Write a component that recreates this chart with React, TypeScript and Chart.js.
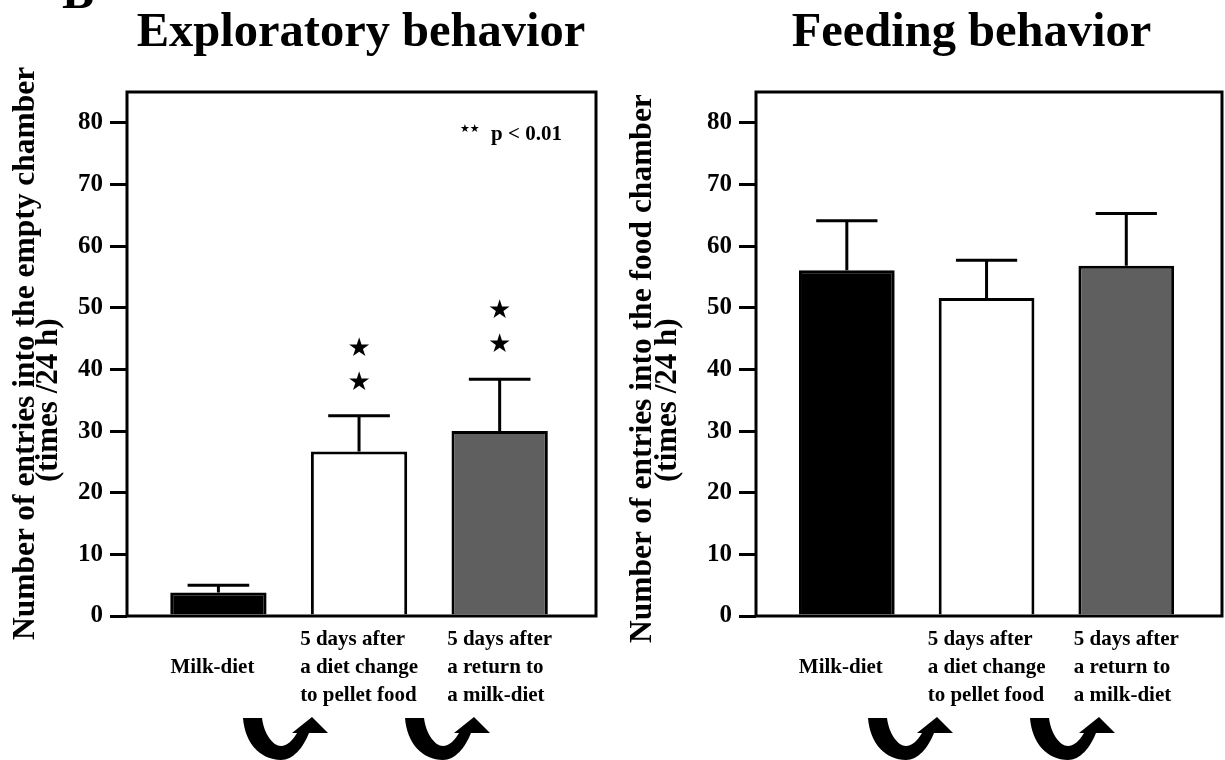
import React, { useEffect, useRef } from 'react';
import { Chart, registerables } from 'chart.js';

Chart.register(...registerables);

// ---------- data ----------
const categoryLabels: string[][] = [
  ['Milk-diet'],
  ['5 days after', 'a diet change', 'to pellet food'],
  ['5 days after', 'a return to', 'a milk-diet'],
];
const categoryPositions = [1, 2, 3];
const barFills = ['#000000', '#ffffff', '#5f5f5f'];
const yTickValues = [0, 10, 20, 30, 40, 50, 60, 70, 80];

const exploratoryMeans = [3.8, 26.7, 30.0];
const exploratoryUpperErrors = [1.2, 5.8, 8.4];
const exploratoryStars: number[][] = [[], [37.7, 43.3], [44.0, 49.5]];

const feedingMeans = [56.1, 51.6, 56.8];
const feedingUpperErrors = [8.0, 6.1, 8.5];
const feedingStars: number[][] = [[], [], []];

// ---------- layout ----------
const SERIF = '"Liberation Serif", "Times New Roman", serif';
const H = 760;
const FRAME_TOP = 92;
const FRAME_BOTTOM = 616;
const Y_MAX = 85;
const X_MIN = 0.35;
const X_MAX = 3.685;

function makePanelPlugin(means: number[], errs: number[], stars: number[][]) {
  return {
    id: 'panelDecor',
    afterDatasetsDraw(chart: any) {
      const ctx = chart.ctx as CanvasRenderingContext2D;
      const { left, top, right, bottom } = chart.chartArea;
      const meta = chart.getDatasetMeta(0);
      const ys = chart.scales.y;
      ctx.save();
      ctx.strokeStyle = '#000';
      ctx.fillStyle = '#000';
      ctx.lineWidth = 3;
      ctx.lineCap = 'butt';
      // upper error bars
      meta.data.forEach((bar: any, i: number) => {
        const x = bar.x;
        const w = bar.width;
        const y0 = ys.getPixelForValue(means[i]);
        const y1 = ys.getPixelForValue(means[i] + errs[i]);
        ctx.beginPath();
        ctx.moveTo(x, y0);
        ctx.lineTo(x, y1);
        ctx.moveTo(x - w * 0.32, y1);
        ctx.lineTo(x + w * 0.32, y1);
        ctx.stroke();
      });
      // significance stars
      ctx.font = '26px "DejaVu Sans"';
      ctx.textAlign = 'center';
      ctx.textBaseline = 'middle';
      stars.forEach((list, i) => {
        list.forEach((v) => {
          ctx.fillText('\u2605', meta.data[i].x, ys.getPixelForValue(v));
        });
      });
      // frame
      ctx.lineWidth = 3;
      ctx.strokeRect(left, top, right - left, bottom - top);
      // category labels: left-aligned blocks centred under the bars
      ctx.font = `bold 21px ${SERIF}`;
      ctx.textAlign = 'left';
      ctx.textBaseline = 'middle';
      const gap = 28;
      meta.data.forEach((bar: any, i: number) => {
        const lines = categoryLabels[i];
        const maxW = Math.max(...lines.map((l) => ctx.measureText(l).width));
        const x0 = bar.x - maxW / 2 - (lines.length === 1 ? 6 : 0);
        const n = lines.length;
        lines.forEach((l, j) => {
          ctx.fillText(l, x0, bottom + 52 + (j - (n - 1) / 2) * gap);
        });
      });
      ctx.restore();
    },
  };
}

type PanelProps = {
  left: number;
  width: number;
  frameLeft: number;
  frameRight: number;
  means: number[];
  errs: number[];
  stars: number[][];
};

function Panel({ left, width, frameLeft, frameRight, means, errs, stars }: PanelProps) {
  const ref = useRef<HTMLCanvasElement>(null);
  useEffect(() => {
    const chart = new Chart(ref.current as HTMLCanvasElement, {
      type: 'bar',
      data: {
        datasets: [
          {
            xAxisID: 'xl',
            yAxisID: 'y',
            data: means.map((v, i) => ({ x: categoryPositions[i], y: v })),
            backgroundColor: barFills,
            borderColor: '#000000',
            borderWidth: 3,
            barPercentage: 0.685,
            categoryPercentage: 1,
          } as any,
        ],
      },
      options: {
        responsive: false,
        animation: false,
        events: [],
        layout: {
          padding: { left: 0, top: FRAME_TOP, right: width - frameRight, bottom: H - FRAME_BOTTOM },
        },
        plugins: {
          legend: { display: false },
          tooltip: { enabled: false },
          title: { display: false },
        },
        scales: {
          xl: {
            type: 'linear',
            axis: 'x',
            position: 'bottom',
            min: X_MIN,
            max: X_MAX,
            offset: false,
            bounds: 'data',
            display: false,
            grid: { offset: false },
            afterBuildTicks: (s: any) => {
              s.ticks = categoryPositions.map((v) => ({ value: v }));
            },
          },
          y: {
            type: 'linear',
            min: 0,
            max: Y_MAX,
            afterBuildTicks: (s: any) => {
              s.ticks = yTickValues.map((v) => ({ value: v }));
            },
            afterFit: (s: any) => {
              s.width = frameLeft;
            },
            grid: {
              drawOnChartArea: false,
              drawTicks: true,
              tickLength: 17,
              color: '#000000',
              lineWidth: 3,
            },
            border: { display: false },
            ticks: {
              color: '#000000',
              padding: 7,
              font: { family: SERIF, weight: 'bold', size: 25 },
            },
          },
        },
      } as any,
      plugins: [makePanelPlugin(means, errs, stars)],
    });
    return () => chart.destroy();
  }, []);
  return (
    <canvas
      ref={ref}
      width={width}
      height={H}
      style={{ position: 'absolute', left, top: 0, width, height: H }}
    />
  );
}

function VText({ x, y, text, size }: { x: number; y: number; text: string; size: number }) {
  return (
    <div
      style={{
        position: 'absolute',
        left: x,
        top: y,
        transform: 'rotate(-90deg)',
        transformOrigin: '0 0',
        whiteSpace: 'nowrap',
        fontFamily: SERIF,
        fontWeight: 'bold',
        fontSize: size,
        lineHeight: '1',
        color: '#000',
      }}
    >
      {text}
    </div>
  );
}

function Title({ cx, baseline, text, size }: { cx: number; baseline: number; text: string; size: number }) {
  return (
    <div
      style={{
        position: 'absolute',
        left: cx - 400,
        width: 800,
        top: baseline - 0.8375 * size,
        textAlign: 'center',
        whiteSpace: 'nowrap',
        fontFamily: SERIF,
        fontWeight: 'bold',
        fontSize: size,
        lineHeight: '1',
        color: '#000',
      }}
    >
      {text}
    </div>
  );
}

const ARROW_PATH =
  'M 0 2 L 19 2 C 21 18, 30 30, 38 30 C 44 30, 50 24, 54 17 L 49 17 L 69 1 L 85 17 L 66 17 C 60 32, 50 44, 38 44 C 18 44, 2 28, 0 2 Z';
const arrowOrigins = [243, 405, 868, 1030];

export default function App() {
  return (
    <div
      style={{
        position: 'absolute',
        left: 0,
        top: 0,
        width: 1225,
        height: H,
        overflow: 'hidden',
        background: '#fff',
      }}
    >
      <Panel
        left={0}
        width={612}
        frameLeft={127}
        frameRight={596}
        means={exploratoryMeans}
        errs={exploratoryUpperErrors}
        stars={exploratoryStars}
      />
      <Panel
        left={612}
        width={613}
        frameLeft={756 - 612}
        frameRight={1222 - 612}
        means={feedingMeans}
        errs={feedingUpperErrors}
        stars={feedingStars}
      />
      <Title cx={62 + 16} baseline={8} text="B" size={48} />
      <Title cx={361} baseline={47} text="Exploratory behavior" size={48.5} />
      <Title cx={971.5} baseline={47} text="Feeding behavior" size={48.5} />

      <VText x={8} y={640} size={31.5} text="Number of entries into the empty chamber" />
      <VText x={31} y={482} size={31} text="(times /24 h)" />
      <VText x={625} y={643} size={31.5} text="Number of entries into the food chamber" />
      <VText x={650} y={482} size={31} text="(times /24 h)" />

      <div
        style={{
          position: 'absolute',
          left: 460,
          top: 123,
          fontFamily: '"DejaVu Sans"',
          fontSize: 11,
          lineHeight: '1',
          whiteSpace: 'nowrap',
        }}
      >
        {'\u2605\u2605'}
      </div>
      <div
        style={{
          position: 'absolute',
          left: 491,
          top: 141 - 0.8375 * 21,
          fontFamily: SERIF,
          fontWeight: 'bold',
          fontSize: 21,
          lineHeight: '1',
          whiteSpace: 'nowrap',
        }}
      >
        p &lt; 0.01
      </div>

      <svg
        width={1225}
        height={H}
        style={{ position: 'absolute', left: 0, top: 0, pointerEvents: 'none' }}
      >
        {arrowOrigins.map((x, i) => (
          <path key={i} d={ARROW_PATH} transform={`translate(${x} 716)`} fill="#000" />
        ))}
      </svg>
    </div>
  );
}
